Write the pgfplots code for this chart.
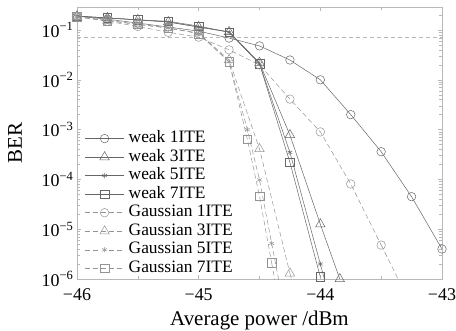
\documentclass[border=0pt]{standalone}
\usepackage{fontspec}
\setmainfont{Liberation Serif}
\usepackage{pgfplots}
\pgfplotsset{compat=1.18}
\definecolor{wk}{gray}{0.4}
\definecolor{gs}{gray}{0.58}
\definecolor{fr}{gray}{0.72}
\newcommand{\tf}{\fontsize{18}{20}\selectfont}
\newcommand{\lf}{\fontsize{17.5}{19}\selectfont}
\newcommand{\af}{\fontsize{21}{23}\selectfont}
\begin{document}
\begin{tikzpicture}
\begin{axis}[
  name=ax,
  scale only axis,
  width=365bp, height=272bp,
  ymode=log,
  xmin=-46, xmax=-43,
  ymin=1e-6, ymax=0.29,
  xtick={-46,-45,-44,-43},
  xticklabels={−46,−45,−44,−43},
  minor xtick={-45.5,-44.5,-43.5},
  ytick={1e-6,1e-5,1e-4,1e-3,1e-2,1e-1},
  yticklabels={10\textsuperscript{−6},10\textsuperscript{−5},10\textsuperscript{−4},10\textsuperscript{−3},10\textsuperscript{−2},10\textsuperscript{−1}},
  minor ytick={2e-6,3e-6,4e-6,5e-6,6e-6,7e-6,8e-6,9e-6,
               2e-5,3e-5,4e-5,5e-5,6e-5,7e-5,8e-5,9e-5,
               2e-4,3e-4,4e-4,5e-4,6e-4,7e-4,8e-4,9e-4,
               2e-3,3e-3,4e-3,5e-3,6e-3,7e-3,8e-3,9e-3,
               2e-2,3e-2,4e-2,5e-2,6e-2,7e-2,8e-2,9e-2,
               0.2},
  axis line style={fr},
  every tick/.style={fr},
  tick align=inside,
  tick label style={font=\tf},
  xticklabel style={yshift=-6bp},
  xlabel={Average power /dBm},
  ylabel={BER},
  every axis x label/.style={at={(rel axis cs:0.5,0)}, anchor=base, yshift=-46bp, font=\af},
  every axis y label/.style={at={([xshift=-55bp]rel axis cs:0,0.5)}, rotate=90, anchor=base, font=\af},
  legend style={draw=none, fill=none, at={(rel axis cs:0.02,0.55)}, anchor=north west,
    font=\lf, row sep=0.6pt, inner sep=0pt, nodes={inner sep=1pt, text height=12pt, text depth=4pt},
    /tikz/every odd column/.append style={column sep=3pt}},
  legend cell align=left,
  legend image code/.code={\draw[mark repeat=2,mark phase=2] plot coordinates {(0cm,0cm) (0.7cm,0cm) (1.4cm,0cm)};},
  every axis plot/.append style={line width=0.5pt},
  mark options={solid, fill=none},
]
\addplot[fr, dash pattern=on 4pt off 3pt, forget plot] coordinates {(-46,0.072) (-43,0.072)};

% weak (solid)
\addplot[wk, mark=o, mark size=4.3pt] coordinates {
(-46,0.19) (-45.75,0.165) (-45.5,0.138) (-45.25,0.115) (-45,0.095) (-44.75,0.069)
(-44.5,0.048) (-44.25,0.025) (-44,0.0100) (-43.75,2.0e-3) (-43.5,3.6e-4) (-43.25,4.5e-5) (-43,4.0e-6)};
\addlegendentry{weak 1ITE}
\addplot[wk, mark=triangle, mark size=5.5pt] coordinates {
(-46,0.19) (-45.75,0.175) (-45.5,0.16) (-45.25,0.145) (-45,0.115) (-44.75,0.092)
(-44.5,0.022) (-44.25,7.8e-4) (-44,1.26e-5) (-43.84,1.0e-6)};
\addlegendentry{weak 3ITE}
\addplot[wk, mark=asterisk, mark size=2.7pt] coordinates {
(-46,0.19) (-45.75,0.175) (-45.5,0.16) (-45.25,0.145) (-45,0.115) (-44.75,0.091)
(-44.5,0.021) (-44.25,3.5e-4) (-44,2.0e-6)};
\addlegendentry{weak 5ITE}
\addplot[wk, mark=square, mark size=4.3pt] coordinates {
(-46,0.19) (-45.75,0.175) (-45.5,0.16) (-45.25,0.15) (-45,0.12) (-44.75,0.09)
(-44.5,0.021) (-44.25,2.2e-4) (-44,1.1e-6)};
\addlegendentry{weak 7ITE}

% Gaussian (dashed)
\addplot[gs, dash pattern=on 5pt off 3pt, mark=o, mark size=4.3pt] coordinates {
(-46,0.185) (-45.75,0.15) (-45.5,0.118) (-45.25,0.09) (-45,0.072) (-44.75,0.040)
(-44.5,0.020) (-44.25,4.1e-3) (-44,9.0e-4) (-43.75,8.1e-5) (-43.5,4.8e-6)};
\addlegendentry{Gaussian 1ITE}
\addplot[gs, dash pattern=on 5pt off 3pt, mark=triangle, mark size=5.5pt] coordinates {
(-46,0.185) (-45.75,0.155) (-45.5,0.13) (-45.25,0.11) (-45,0.087) (-44.75,0.025)
(-44.5,4.1e-4) (-44.25,1.3e-6)};
\addlegendentry{Gaussian 3ITE}
\addplot[gs, dash pattern=on 5pt off 3pt, mark=asterisk, mark size=2.7pt] coordinates {
(-46,0.185) (-45.75,0.155) (-45.5,0.13) (-45.25,0.11) (-45,0.085) (-44.75,0.023)
(-44.6,1.0e-3) (-44.5,9.8e-5) (-44.4,5.2e-6)};
\addlegendentry{Gaussian 5ITE}
\addplot[gs, dash pattern=on 5pt off 3pt, mark=square, mark size=4.3pt] coordinates {
(-46,0.185) (-45.75,0.155) (-45.5,0.13) (-45.25,0.11) (-45,0.085) (-44.75,0.023)
(-44.6,6.4e-4) (-44.5,4.6e-5) (-44.4,2.1e-6)};
\addlegendentry{Gaussian 7ITE}

% line continuations below the axis (no marks)
\addplot[wk, forget plot] coordinates {(-44,2.0e-6) (-43.9,2.5e-7)};
\addplot[gs, dash pattern=on 5pt off 3pt, forget plot] coordinates {(-43.5,4.8e-6) (-43.3,5e-7)};
\addplot[gs, dash pattern=on 5pt off 3pt, forget plot] coordinates {(-44.25,1.3e-6) (-44.2,5e-7)};
\addplot[gs, dash pattern=on 5pt off 3pt, forget plot] coordinates {(-44.4,5.2e-6) (-44.3,2.8e-7)};
\addplot[gs, dash pattern=on 5pt off 3pt, forget plot] coordinates {(-44.4,2.1e-6) (-44.3,1e-7)};
\end{axis}
\pgfresetboundingbox
\path[use as bounding box] ([shift={(-77bp,-52bp)}]ax.south west) rectangle ([shift={(14bp,7bp)}]ax.north east);
\end{tikzpicture}
\end{document}
